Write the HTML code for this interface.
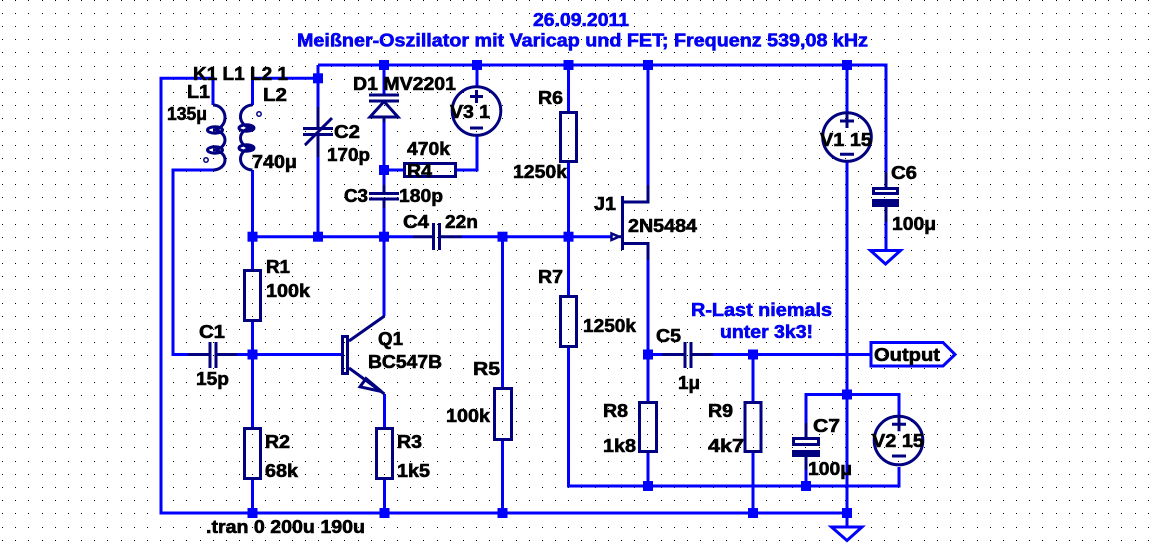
<!DOCTYPE html>
<html><head><meta charset="utf-8"><style>
html,body{margin:0;padding:0;background:#fff;}
svg{display:block}
text{font-family:"Liberation Sans",Arial,sans-serif;font-weight:bold;font-size:18px;fill:#000;stroke:#000;stroke-width:0.6}
text.b{fill:#0000ff;stroke:#0000e0}
.w{stroke:#0000ff;stroke-width:3;fill:none}
.c{stroke:#000080;stroke-width:3;fill:none}
.j{fill:#0000ff}
</style></head><body>
<svg width="1152" height="548" viewBox="0 0 1152 548" xmlns="http://www.w3.org/2000/svg">
<rect width="1152" height="548" fill="#fff"/>
<g id="grid" fill="#000"></g>

<!-- wires -->
<g class="w">
<path d="M213,105 V78.3 H161 V513 H847"/>
<path d="M213,170 H173 V354.5 H188"/>
<path d="M237,354.5 H341"/>
<path d="M252.5,105 V78.3 H318"/>
<path d="M252.5,170 V269"/>
<path d="M252.5,322 V427"/>
<path d="M252.5,480 V513"/>
<path d="M318,65 V107"/>
<path d="M318,157 V236.7"/>
<path d="M318,65 H886 V172"/>
<path d="M252.5,236.7 H413"/>
<path d="M462,236.7 H611"/>
<path d="M384,65 V95"/>
<path d="M384,122 V193.5"/>
<path d="M384,199 V316"/>
<path d="M384,170 H403"/>
<path d="M457,170 H477 V136"/>
<path d="M477,65 V86"/>
<path d="M568.5,65 V111"/>
<path d="M568.5,163 V295"/>
<path d="M568.5,348 V486 H899 V467"/>
<path d="M648,65 V185"/>
<path d="M648,260 V401"/>
<path d="M648,453 V486"/>
<path d="M648,354.5 H662"/>
<path d="M713,354.5 H871"/>
<path d="M753,354.5 V401"/>
<path d="M753,453 V513"/>
<path d="M502.5,236.7 V387"/>
<path d="M502.5,441 V513"/>
<path d="M384.5,394 V427"/>
<path d="M384.5,480 V513"/>
<path d="M847,65 V112"/>
<path d="M847,162 V527"/>
<path d="M806,423 V394.5 H899 V415"/>
<path d="M806,470 V486"/>
<path d="M886,222 V250.5"/>
<path d="M870.5,250.5 H900.5 L885.5,264 Z"/>
<path d="M831.5,527 H862 L847,540.5 Z"/>
<path d="M871,342.5 H943 L955,354.5 L943,366 H871 Z"/>
</g>

<!-- components -->
<g class="c">
<!-- L1 -->
<path d="M213,105 A12,12.5 0 0 1 213,130 A12,10 0 0 1 213,150 A12,10 0 0 1 213,170"/>
<ellipse cx="215" cy="130" rx="7.5" ry="3.2"/>
<ellipse cx="215" cy="150" rx="7.5" ry="3.2"/>
<circle cx="206" cy="160" r="2.2" stroke-width="1.5"/>
<!-- L2 -->
<path d="M252.5,105 A12,11.5 0 0 0 252.5,128 A12,10 0 0 0 252.5,148 A12,11 0 0 0 252.5,170"/>
<ellipse cx="246.5" cy="128" rx="7.5" ry="3.2"/>
<ellipse cx="246.5" cy="148" rx="7.5" ry="3.2"/>
<circle cx="259" cy="114" r="2.2" stroke-width="1.5"/>
<!-- C2 -->
<path d="M318,107 V128.5 M318,134.5 V157 M303,128.5 H333 M303,134.5 H333 M305,145 L332,118"/>
<!-- D1 -->
<path d="M369,95 H399 M369,101 H399 M384,117 V122"/>
<path d="M370,117 H398 L384,101.5 Z"/>
<!-- C3 -->
<path d="M369,193.5 H399 M369,199 H399 M384,185 V193.5 M384,199 V208"/>
<!-- R4 -->
<rect x="404.5" y="163.5" width="51" height="13"/>
<!-- V3 -->
<circle cx="476.5" cy="111" r="24.3"/>
<path d="M470,96.5 H483 M476.5,90 V103 M470,128 H483"/>
<!-- C4 -->
<path d="M413,236.7 H433.5 M439.5,236.7 H462 M433.5,223 V250 M439.5,223 V250"/>
<!-- C1 -->
<path d="M188,354.5 H210 M216,354.5 H237 M210,342 V368 M216,342 V368"/>
<!-- R1,R2,R3,R5,R6,R7,R8,R9 -->
<rect x="244.5" y="270.5" width="16" height="50"/>
<rect x="244.5" y="428.5" width="16" height="50"/>
<rect x="376.5" y="428.5" width="16" height="50"/>
<rect x="494.5" y="388.5" width="17" height="51"/>
<rect x="560.5" y="112.5" width="16" height="49"/>
<rect x="560.5" y="296.5" width="16" height="50"/>
<rect x="639.5" y="402.5" width="17" height="49"/>
<rect x="745" y="402.5" width="16" height="49"/>
<!-- Q1 -->
<rect x="342.5" y="336.5" width="5" height="37"/>
<path d="M349,341 L384.5,316 M349,368 L384.5,394"/>
<polygon points="381.5,391.5 360,386.8 366,378.6"/>
<!-- J1 -->
<path d="M622.5,196 V250"/>
<path d="M622.5,202 H648 V185 M622.5,243.5 H648 V260"/>
<polygon points="611.5,233.5 611.5,240 619,236.7" stroke-width="2.5"/>
<path d="M619,236.7 H622"/>
<!-- C5 -->
<path d="M662,354.5 H685 M691,354.5 H713 M685,342 V368 M691,342 V368"/>
<!-- V1 -->
<circle cx="847" cy="137" r="24.3"/>
<path d="M840,121 H854 M847,114 V128 M840,154.3 H854"/>
<!-- C6 -->
<path d="M886,172 V188.5 M886,207 V222"/>
<rect x="873.5" y="188.5" width="24" height="5"/>
<!-- V2 -->
<circle cx="898.5" cy="440.5" r="24.3"/>
<path d="M892,424.3 H906 M899,417.3 V431.3 M892,456 H906"/>
<!-- C7 -->
<path d="M806,423 V438.5 M806,457 V470"/>
<rect x="793.5" y="438.5" width="25" height="6"/>
</g>
<rect x="872" y="199" width="27" height="8" fill="#000080"/>
<rect x="792" y="450" width="28" height="7" fill="#000080"/>

<!-- junctions -->
<g class="j">
<rect x="313" y="73.3" width="10" height="10"/>
<rect x="379" y="60" width="10" height="10"/>
<rect x="472" y="60" width="10" height="10"/>
<rect x="563.5" y="60" width="10" height="10"/>
<rect x="643" y="60" width="10" height="10"/>
<rect x="842" y="60" width="10" height="10"/>
<rect x="379" y="165" width="10" height="10"/>
<rect x="247.5" y="231.7" width="10" height="10"/>
<rect x="313" y="231.7" width="10" height="10"/>
<rect x="379" y="231.7" width="10" height="10"/>
<rect x="497.5" y="231.7" width="10" height="10"/>
<rect x="563.5" y="231.7" width="10" height="10"/>
<rect x="247.5" y="349.5" width="10" height="10"/>
<rect x="643" y="349.5" width="10" height="10"/>
<rect x="748" y="349.5" width="10" height="10"/>
<rect x="842" y="389.5" width="10" height="10"/>
<rect x="643" y="481" width="10" height="10"/>
<rect x="801" y="481" width="10" height="10"/>
<rect x="247.5" y="508" width="10" height="10"/>
<rect x="379.5" y="508" width="10" height="10"/>
<rect x="497.5" y="508" width="10" height="10"/>
<rect x="748" y="508" width="10" height="10"/>
<rect x="842" y="508" width="10" height="10"/>
</g>

<!-- text -->
<text class="b" x="533" y="26" textLength="96" lengthAdjust="spacingAndGlyphs">26.09.2011</text>
<text class="b" x="297" y="46.5" textLength="571" lengthAdjust="spacingAndGlyphs">Meißner-Oszillator mit Varicap und FET; Frequenz 539,08 kHz</text>
<text x="193" y="80" textLength="95" lengthAdjust="spacingAndGlyphs">K1 L1 L2 1</text>
<text x="187" y="98" textLength="23" lengthAdjust="spacingAndGlyphs">L1</text>
<text x="167" y="120" textLength="40" lengthAdjust="spacingAndGlyphs">135μ</text>
<text x="263" y="101" textLength="24" lengthAdjust="spacingAndGlyphs">L2</text>
<text x="252" y="168" textLength="45" lengthAdjust="spacingAndGlyphs">740μ</text>
<text x="353" y="90" textLength="103" lengthAdjust="spacingAndGlyphs">D1 MV2201</text>
<text x="450" y="118" textLength="40" lengthAdjust="spacingAndGlyphs">V3 1</text>
<text x="334" y="138" textLength="26" lengthAdjust="spacingAndGlyphs">C2</text>
<text x="327" y="161" textLength="43" lengthAdjust="spacingAndGlyphs">170p</text>
<text x="407" y="155" textLength="43" lengthAdjust="spacingAndGlyphs">470k</text>
<text x="407" y="177" textLength="25" lengthAdjust="spacingAndGlyphs">R4</text>
<text x="538" y="104" textLength="25" lengthAdjust="spacingAndGlyphs">R6</text>
<text x="513" y="178" textLength="54" lengthAdjust="spacingAndGlyphs">1250k</text>
<text x="344" y="202" textLength="24" lengthAdjust="spacingAndGlyphs">C3</text>
<text x="399" y="202" textLength="44" lengthAdjust="spacingAndGlyphs">180p</text>
<text x="403" y="228" textLength="26" lengthAdjust="spacingAndGlyphs">C4</text>
<text x="445" y="228" textLength="33" lengthAdjust="spacingAndGlyphs">22n</text>
<text x="594" y="210" textLength="22" lengthAdjust="spacingAndGlyphs">J1</text>
<text x="628" y="232" textLength="69" lengthAdjust="spacingAndGlyphs">2N5484</text>
<text x="891" y="179" textLength="26" lengthAdjust="spacingAndGlyphs">C6</text>
<text x="892" y="230" textLength="44" lengthAdjust="spacingAndGlyphs">100μ</text>
<text x="820" y="146" textLength="52" lengthAdjust="spacingAndGlyphs">V1 15</text>
<text x="266" y="273" textLength="24" lengthAdjust="spacingAndGlyphs">R1</text>
<text x="266" y="297" textLength="44" lengthAdjust="spacingAndGlyphs">100k</text>
<text x="199" y="338" textLength="26" lengthAdjust="spacingAndGlyphs">C1</text>
<text x="196" y="385" textLength="33" lengthAdjust="spacingAndGlyphs">15p</text>
<text x="378" y="345" textLength="25" lengthAdjust="spacingAndGlyphs">Q1</text>
<text x="368" y="368" textLength="74" lengthAdjust="spacingAndGlyphs">BC547B</text>
<text x="473" y="375" textLength="27" lengthAdjust="spacingAndGlyphs">R5</text>
<text x="446" y="422" textLength="44" lengthAdjust="spacingAndGlyphs">100k</text>
<text x="265" y="448" textLength="25" lengthAdjust="spacingAndGlyphs">R2</text>
<text x="265" y="477" textLength="33" lengthAdjust="spacingAndGlyphs">68k</text>
<text x="397" y="448" textLength="25" lengthAdjust="spacingAndGlyphs">R3</text>
<text x="397" y="477" textLength="33" lengthAdjust="spacingAndGlyphs">1k5</text>
<text x="206" y="533" textLength="159" lengthAdjust="spacingAndGlyphs">.tran 0 200u 190u</text>
<text x="538" y="283" textLength="25" lengthAdjust="spacingAndGlyphs">R7</text>
<text x="583" y="332" textLength="53" lengthAdjust="spacingAndGlyphs">1250k</text>
<text class="b" x="691" y="316" textLength="141" lengthAdjust="spacingAndGlyphs">R-Last niemals</text>
<text class="b" x="720" y="338" textLength="93" lengthAdjust="spacingAndGlyphs">unter 3k3!</text>
<text x="656" y="342" textLength="25" lengthAdjust="spacingAndGlyphs">C5</text>
<text x="678" y="389" textLength="22" lengthAdjust="spacingAndGlyphs">1μ</text>
<text x="603" y="417" textLength="25" lengthAdjust="spacingAndGlyphs">R8</text>
<text x="603" y="452" textLength="33" lengthAdjust="spacingAndGlyphs">1k8</text>
<text x="708" y="417" textLength="25" lengthAdjust="spacingAndGlyphs">R9</text>
<text x="708" y="452" textLength="36" lengthAdjust="spacingAndGlyphs">4k7</text>
<text x="813" y="432" textLength="27" lengthAdjust="spacingAndGlyphs">C7</text>
<text x="808" y="475" textLength="44" lengthAdjust="spacingAndGlyphs">100μ</text>
<text x="872" y="447" textLength="52" lengthAdjust="spacingAndGlyphs">V2 15</text>
<text x="874" y="361" textLength="66" lengthAdjust="spacingAndGlyphs">Output</text>
</svg>
<script>
(function(){
var g=document.getElementById('grid'),ns='http://www.w3.org/2000/svg';
for(var i=0;i<88;i++){for(var j=0;j<43;j++){
var r=document.createElementNS(ns,'rect');
r.setAttribute('x',Math.round(2+i*13.17));
r.setAttribute('y',Math.round(-0.3+j*13.17));
r.setAttribute('width','1');r.setAttribute('height','1');
g.appendChild(r);}}
})();
</script>
</body></html>
